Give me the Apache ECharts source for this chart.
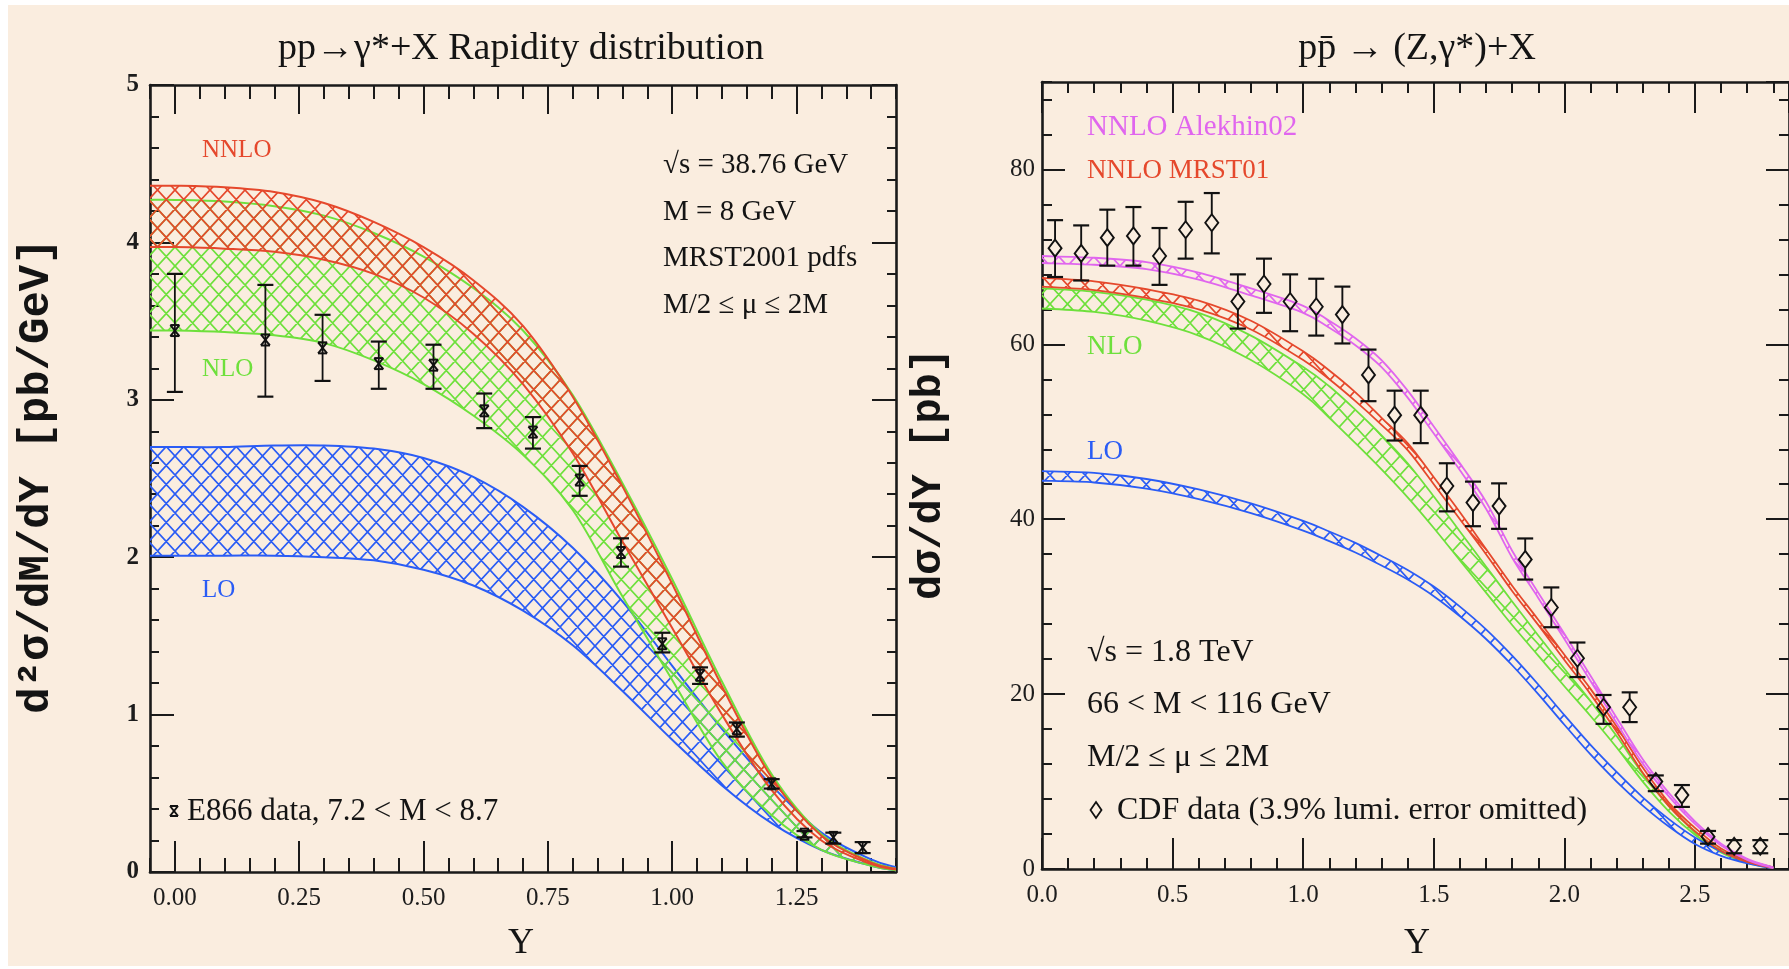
<!DOCTYPE html>
<html><head><meta charset="utf-8">
<script src="https://cdn.jsdelivr.net/npm/echarts@6/dist/echarts.min.js"></script>
<style>
html,body{margin:0;padding:0;background:#fff;width:1789px;height:969px;overflow:hidden}
#bg{position:absolute;left:8px;top:5px;right:0;bottom:3px;background:#FAEDDF}
#chart{position:absolute;left:0;top:0;width:1789px;height:969px}
</style></head><body><div id="bg"></div><div id="chart"></div>
<script>
// ---------------- LEFT PANEL DATA (pp -> gamma* + X, E866) ----------------
const L_X      = [-0.05, 0, 0.1, 0.2, 0.3, 0.4, 0.5, 0.6, 0.7, 0.8, 0.9, 1.0, 1.1, 1.2, 1.3, 1.4, 1.45];
const NNLO_HI  = [4.36, 4.36, 4.35, 4.32, 4.25, 4.13, 3.97, 3.76, 3.47, 3.02, 2.45, 1.83, 1.18, 0.60, 0.23, 0.06, 0.02];
const NNLO_LO  = [3.97, 3.97, 3.96, 3.94, 3.89, 3.80, 3.65, 3.42, 3.10, 2.66, 2.10, 1.55, 1.00, 0.52, 0.20, 0.05, 0.015];
const NLO_HI   = [4.27, 4.27, 4.26, 4.23, 4.17, 4.06, 3.91, 3.71, 3.44, 3.03, 2.47, 1.86, 1.21, 0.62, 0.24, 0.065, 0.02];
const NLO_LO   = [3.44, 3.44, 3.43, 3.41, 3.36, 3.25, 3.10, 2.90, 2.65, 2.30, 1.75, 1.22, 0.70, 0.36, 0.14, 0.04, 0.01];
const LO_HI    = [2.70, 2.70, 2.70, 2.71, 2.71, 2.69, 2.63, 2.51, 2.32, 2.06, 1.72, 1.31, 0.91, 0.55, 0.25, 0.08, 0.03];
const LO_LO    = [2.01, 2.01, 2.01, 2.01, 2.00, 1.98, 1.92, 1.82, 1.66, 1.44, 1.15, 0.84, 0.55, 0.31, 0.14, 0.04, 0.01];

const E866_Y   = [0.00, 0.182, 0.297, 0.41, 0.52, 0.622, 0.72, 0.814, 0.897, 0.98, 1.056, 1.13, 1.20, 1.266, 1.324, 1.383];
const E866_VAL = [3.44, 3.38, 3.33, 3.23, 3.22, 2.93, 2.795, 2.49, 2.03, 1.45, 1.25, 0.91, 0.56, 0.24, 0.22, 0.155];
const E866_LO  = [3.05, 3.02, 3.12, 3.07, 3.07, 2.82, 2.69, 2.39, 1.94, 1.395, 1.195, 0.86, 0.53, 0.22, 0.18, 0.12];
const E866_HI  = [3.80, 3.73, 3.54, 3.37, 3.35, 3.04, 2.89, 2.58, 2.12, 1.52, 1.30, 0.95, 0.59, 0.26, 0.25, 0.19];

const L_XTICKS = [0, 0.25, 0.5, 0.75, 1.0, 1.25];

// ---------------- RIGHT PANEL DATA (ppbar -> Z/gamma* + X, CDF) ----------------
const R_X      = [0, 0.2, 0.4, 0.6, 0.8, 1.0, 1.1, 1.2, 1.3, 1.4, 1.5, 1.6, 1.7, 1.8, 1.9, 2.0, 2.1, 2.2, 2.3, 2.4, 2.5, 2.6, 2.7, 2.8];
const ALEK_HI  = [70.1, 69.9, 69.4, 68.2, 66.4, 64.4, 62.7, 60.7, 58.2, 54.7, 50.6, 46.4, 42.0, 36.4, 31.6, 26.9, 22.1, 17.3, 12.55, 8.7, 5.45, 2.9, 1.15, 0.2];
const ALEK_LO  = [69.3, 69.1, 68.6, 67.4, 65.6, 63.6, 61.9, 59.9, 57.4, 53.9, 49.8, 45.6, 41.2, 35.6, 31.0, 26.3, 21.5, 16.7, 12.05, 8.3, 5.15, 2.7, 1.05, 0.1];
const MRST_HI  = [67.6, 67.2, 66.3, 65.0, 62.7, 59.2, 57.0, 54.5, 51.6, 48.7, 44.8, 40.8, 36.6, 32.4, 28.5, 24.5, 20.6, 16.3, 11.6, 7.6, 4.7, 2.35, 1.0, 0.2];
const MRST_LO  = [66.6, 66.2, 65.3, 64.0, 61.7, 58.2, 56.0, 53.5, 50.8, 47.9, 44.0, 40.0, 36.0, 31.8, 27.9, 23.9, 20.0, 15.7, 11.0, 7.2, 4.3, 2.05, 0.8, 0.1];
const NLOR_HI  = [66.4, 66.0, 65.1, 63.6, 61.0, 57.4, 55.2, 52.5, 49.6, 46.4, 42.6, 38.6, 34.6, 30.6, 26.7, 22.9, 19.2, 15.2, 10.9, 7.2, 4.3, 2.1, 0.8, 0.1];
const NLOR_LO  = [64.1, 63.7, 62.7, 61.0, 58.2, 54.3, 51.6, 48.7, 45.7, 42.5, 39.0, 35.3, 31.6, 27.9, 24.4, 20.9, 17.5, 13.9, 10.0, 6.6, 3.9, 1.9, 0.7, 0.08];
const LOR_HI   = [45.5, 45.3, 44.6, 43.4, 41.8, 39.8, 38.6, 37.3, 35.8, 34.2, 32.3, 30.0, 27.4, 24.4, 21.1, 17.6, 14.2, 11.1, 8.2, 5.7, 3.6, 2.0, 0.95, 0.15];
const LOR_LO   = [44.4, 44.2, 43.5, 42.3, 40.7, 38.7, 37.5, 36.2, 34.7, 33.1, 31.2, 28.9, 26.3, 23.3, 20.0, 16.5, 13.1, 10.0, 7.25, 4.85, 2.85, 1.5, 0.65, 0.05];

const CDF_Y    = [0.05, 0.15, 0.25, 0.35, 0.45, 0.55, 0.65, 0.75, 0.85, 0.95, 1.05, 1.15, 1.25, 1.35, 1.45, 1.55, 1.65, 1.75, 1.85, 1.95, 2.05, 2.15, 2.25, 2.35, 2.45, 2.55, 2.65, 2.75];
const CDF_VAL  = [71.0, 70.4, 72.2, 72.4, 70.1, 73.1, 73.9, 64.9, 66.9, 64.9, 64.3, 63.4, 56.5, 51.9, 51.9, 43.8, 41.9, 41.5, 35.4, 29.9, 24.1, 18.5, 18.5, 10.0, 8.45, 3.7, 2.6, 2.6];
const CDF_LO   = [67.7, 67.3, 69.0, 69.0, 66.8, 69.8, 70.4, 61.8, 63.6, 61.5, 61.0, 60.1, 53.5, 49.0, 48.7, 40.9, 39.2, 38.9, 33.1, 27.65, 21.95, 16.6, 16.8, 8.9, 7.1, 2.9, 1.8, 1.8];
const CDF_HI   = [74.2, 73.6, 75.4, 75.7, 73.3, 76.3, 77.3, 68.0, 69.8, 68.0, 67.5, 66.6, 59.4, 54.7, 54.7, 46.4, 44.3, 44.1, 37.8, 32.2, 25.9, 19.9, 20.2, 10.7, 9.6, 4.35, 3.3, 3.3];

// ---------------- STYLE ----------------
const C_RED = '#E5482C', C_GREEN = '#6EE03C', C_BLUE = '#2A5CF5', C_MAG = '#E066EE';
const AX = '#1a1a1a';
const SERIF = '"Liberation Serif", "DejaVu Serif", serif';
const MONO = '"Liberation Mono", "DejaVu Sans Mono", monospace';

function hatch(color) {
  const w = 35, h = 38;
  const c = document.createElement('canvas'); c.width = w; c.height = h;
  const g = c.getContext('2d');
  g.strokeStyle = color; g.lineWidth = 1.7; g.beginPath();
  for (let k = -3; k <= 5; k++) {
    const x0 = k * 17.5;
    g.moveTo(x0 - 3.5, -3.8); g.lineTo(x0 + 38.5, 41.8);
    g.moveTo(x0 + 3.5, -3.8); g.lineTo(x0 - 38.5, 41.8);
  }
  g.stroke();
  return c;
}

function catmull(pts, start) {
  let d = (start ? 'M' : 'L') + pts[0][0] + ',' + pts[0][1];
  for (let i = 0; i < pts.length - 1; i++) {
    const p0 = pts[i - 1] || pts[i], p1 = pts[i], p2 = pts[i + 1], p3 = pts[i + 2] || pts[i + 1];
    const c1x = p1[0] + (p2[0] - p0[0]) / 6, c1y = p1[1] + (p2[1] - p0[1]) / 6;
    const c2x = p2[0] - (p3[0] - p1[0]) / 6, c2y = p2[1] - (p3[1] - p1[1]) / 6;
    d += 'C' + c1x + ',' + c1y + ',' + c2x + ',' + c2y + ',' + p2[0] + ',' + p2[1];
  }
  return d;
}

function bandSeries(name, xs, lo, hi, color, xi, yi, edgeW, z) {
  const pattern = { image: hatch(color), repeat: 'repeat' };
  return {
    type: 'custom', name, xAxisIndex: xi, yAxisIndex: yi, clip: true, z: z,
    data: xs.map((x, i) => [x, lo[i], hi[i]]),
    renderItem: function (params, api) {
      if (params.dataIndexInside !== 0) return;
      const n = params.dataInsideLength;
      const hp = [], lp = [];
      for (let i = 0; i < n; i++) {
        const x = api.value(0, i);
        hp.push(api.coord([x, api.value(2, i)]));
        lp.push(api.coord([x, api.value(1, i)]));
      }
      const fill = catmull(hp, true) + catmull(lp.slice().reverse(), false) + 'Z';
      return {
        type: 'group', children: [
          { type: 'path', shape: { pathData: fill }, style: { fill: pattern, stroke: null } },
          { type: 'path', shape: { pathData: catmull(hp, true) }, style: { fill: null, stroke: color, lineWidth: edgeW } },
          { type: 'path', shape: { pathData: catmull(lp, true) }, style: { fill: null, stroke: color, lineWidth: edgeW } }
        ]
      };
    }
  };
}

function ln(x1, y1, x2, y2, w) {
  return { type: 'line', shape: { x1, y1, x2, y2 }, style: { stroke: '#111', lineWidth: w } };
}

function errSeries(xs, v, lo, hi, xi, yi, marker) {
  return {
    type: 'custom', xAxisIndex: xi, yAxisIndex: yi, clip: true, z: 20,
    data: xs.map((x, i) => [x, v[i], lo[i], hi[i]]),
    renderItem: function (params, api) {
      const x = api.value(0);
      const p = api.coord([x, api.value(1)]);
      const a = api.coord([x, api.value(3)]);
      const b = api.coord([x, api.value(2)]);
      const ch = [];
      const cw = 8;
      ch.push(ln(a[0] - cw, a[1], a[0] + cw, a[1], 2.2));
      ch.push(ln(b[0] - cw, b[1], b[0] + cw, b[1], 2.2));
      if (marker === 'diamond') {
        const hw = 6.5, hh = 8.5;
        if (a[1] < p[1] - hh) ch.push(ln(a[0], a[1], a[0], p[1] - hh, 1.9));
        if (b[1] > p[1] + hh) ch.push(ln(b[0], p[1] + hh, b[0], b[1], 1.9));
        ch.push({ type: 'polygon', shape: { points: [[p[0], p[1] - hh], [p[0] + hw, p[1]], [p[0], p[1] + hh], [p[0] - hw, p[1]]] },
                  style: { fill: null, stroke: '#111', lineWidth: 1.9 } });
      } else {
        ch.push(ln(a[0], a[1], b[0], b[1], 1.8));
        const hw = 4.5, hh = 5.5;
        ch.push(ln(p[0] - hw, p[1] - hh, p[0] + hw, p[1] + hh, 2));
        ch.push(ln(p[0] + hw, p[1] - hh, p[0] - hw, p[1] + hh, 2));
        ch.push(ln(p[0] - hw, p[1] - hh, p[0] + hw, p[1] - hh, 2));
        ch.push(ln(p[0] - hw, p[1] + hh, p[0] + hw, p[1] + hh, 2));
      }
      return { type: 'group', children: ch };
    }
  };
}

const labelFont = { fontFamily: SERIF, fontSize: 25, color: '#1c1c1c' };

function ax(o) {
  const base = {
    type: 'value', gridIndex: o.grid, position: o.pos, min: o.min, max: o.max,
    splitLine: { show: false },
    axisLine: { show: !!o.line, onZero: false, lineStyle: { color: AX, width: 2.6 } },
    axisTick: { show: true, inside: true, length: o.len, lineStyle: { color: AX, width: 2 } },
    axisLabel: { show: false }
  };
  if (o.interval !== undefined) base.interval = o.interval;
  if (o.custom) base.axisTick.customValues = o.custom;
  if (o.label) {
    base.axisLabel = Object.assign({ show: true, margin: o.margin, formatter: o.fmt, showMaxLabel: o.showMax, showMinLabel: true }, labelFont, o.labelExtra || {});
    if (o.custom) base.axisLabel.customValues = o.custom;
  }
  return base;
}

const xAxes = [
  // left panel
  ax({ grid: 0, pos: 'bottom', min: -0.05, max: 1.45, custom: L_XTICKS, len: 31, line: true, label: true, showMax: true, margin: 14, fmt: v => Number(v).toFixed(2) }),
  ax({ grid: 0, pos: 'bottom', min: -0.05, max: 1.45, interval: 0.05, len: 14 }),
  ax({ grid: 0, pos: 'top', min: -0.05, max: 1.45, custom: L_XTICKS, len: 29, line: true }),
  ax({ grid: 0, pos: 'top', min: -0.05, max: 1.45, interval: 0.05, len: 14 }),
  // right panel
  ax({ grid: 1, pos: 'bottom', min: 0, max: 2.86, interval: 0.5, len: 31, line: true, label: true, showMax: false, margin: 14, fmt: v => Number(v).toFixed(1) }),
  ax({ grid: 1, pos: 'bottom', min: 0, max: 2.86, interval: 0.1, len: 11 }),
  ax({ grid: 1, pos: 'top', min: 0, max: 2.86, interval: 0.5, len: 31, line: true }),
  ax({ grid: 1, pos: 'top', min: 0, max: 2.86, interval: 0.1, len: 11 })
];
const yAxes = [
  ax({ grid: 0, pos: 'left', min: 0, max: 5, interval: 1, len: 24, line: true, label: true, showMax: true, margin: 11, fmt: v => String(v), labelExtra: { fontWeight: 'bold' } }),
  ax({ grid: 0, pos: 'left', min: 0, max: 5, interval: 0.2, len: 9 }),
  ax({ grid: 0, pos: 'right', min: 0, max: 5, interval: 1, len: 24, line: true }),
  ax({ grid: 0, pos: 'right', min: 0, max: 5, interval: 0.2, len: 9 }),
  ax({ grid: 1, pos: 'left', min: 0, max: 90, interval: 20, len: 23, line: true, label: true, showMax: false, margin: 7, fmt: v => String(v) }),
  ax({ grid: 1, pos: 'left', min: 0, max: 90, interval: 4, len: 10 }),
  ax({ grid: 1, pos: 'right', min: 0, max: 90, interval: 20, len: 23, line: true }),
  ax({ grid: 1, pos: 'right', min: 0, max: 90, interval: 4, len: 10 })
];

function txt(x, y, text, font, fill, align) {
  return { type: 'text', x, y, z: 50, style: { text, font, fill: fill || '#141414', align: align || 'left', verticalAlign: 'middle' } };
}
const F_ANN_L = '29px ' + SERIF;
const F_ANN_R = '32px ' + SERIF;
const graphics = [
  txt(521, 49, 'pp\u2192\u03b3*+X Rapidity distribution', '38px ' + SERIF, '#141414', 'center'),
  txt(1417, 49, 'pp\u0304 \u2192 (Z,\u03b3*)+X', '38px ' + SERIF, '#141414', 'center'),
  { type: 'text', x: 37, y: 476, rotation: Math.PI / 2, z: 50, style: { text: 'd\u00b2\u03c3/dM/dY [pb/GeV]', font: 'bold 44px ' + MONO, fill: '#141414', align: 'center', verticalAlign: 'middle' } },
  { type: 'text', x: 929, y: 474, rotation: Math.PI / 2, z: 50, style: { text: 'd\u03c3/dY [pb]', font: 'bold 42px ' + MONO, fill: '#141414', align: 'center', verticalAlign: 'middle' } },
  txt(521, 944, 'Y', '36px ' + SERIF, '#141414', 'center'),
  txt(1417, 944, 'Y', '36px ' + SERIF, '#141414', 'center'),
  // left panel labels
  txt(202, 150, 'NNLO', '25px ' + SERIF, C_RED),
  txt(202, 369, 'NLO', '25px ' + SERIF, C_GREEN),
  txt(202, 590, 'LO', '25px ' + SERIF, C_BLUE),
  txt(663, 165, '\u221as = 38.76 GeV', F_ANN_L),
  txt(663, 212, 'M = 8 GeV', F_ANN_L),
  txt(663, 258, 'MRST2001 pdfs', F_ANN_L),
  txt(663, 305, 'M/2 \u2264 \u03bc \u2264 2M', F_ANN_L),
  txt(187, 812, 'E866 data, 7.2 < M < 8.7', '31px ' + SERIF),
  // right panel labels
  txt(1087, 127, 'NNLO Alekhin02', '29px ' + SERIF, C_MAG),
  txt(1087, 171, 'NNLO MRST01', '27px ' + SERIF, C_RED),
  txt(1087, 347, 'NLO', '27px ' + SERIF, C_GREEN),
  txt(1087, 452, 'LO', '27px ' + SERIF, C_BLUE),
  txt(1087, 653, '\u221as = 1.8 TeV', F_ANN_R),
  txt(1087, 705, '66 < M < 116 GeV', F_ANN_R),
  txt(1087, 758, 'M/2 \u2264 \u03bc \u2264 2M', F_ANN_R),
  txt(1117, 811, 'CDF data (3.9% lumi. error omitted)', F_ANN_R),
  // legend symbols
  { type: 'polygon', z: 50, shape: { points: [[1096, 802], [1101.5, 810], [1096, 818], [1090.5, 810]] }, style: { fill: null, stroke: '#111', lineWidth: 1.8 } },
  { type: 'group', z: 50, children: [
    { type: 'line', shape: { x1: 170, y1: 806, x2: 178, y2: 816 }, style: { stroke: '#111', lineWidth: 2 } },
    { type: 'line', shape: { x1: 178, y1: 806, x2: 170, y2: 816 }, style: { stroke: '#111', lineWidth: 2 } },
    { type: 'line', shape: { x1: 170, y1: 806, x2: 178, y2: 806 }, style: { stroke: '#111', lineWidth: 2 } },
    { type: 'line', shape: { x1: 170, y1: 816, x2: 178, y2: 816 }, style: { stroke: '#111', lineWidth: 2 } }
  ] }
];

const chart = echarts.init(document.getElementById('chart'), null, { renderer: 'canvas' });
chart.setOption({
  animation: false,
  backgroundColor: 'transparent',
  grid: [
    { left: 150, top: 85, width: 746, height: 787 },
    { left: 1042, top: 82, width: 752, height: 787 }
  ],
  xAxis: xAxes,
  yAxis: yAxes,
  series: [
    bandSeries('LO', L_X, LO_LO, LO_HI, C_BLUE, 0, 0, 2, 2),
    bandSeries('NLO', L_X, NLO_LO, NLO_HI, C_GREEN, 0, 0, 2, 3),
    bandSeries('NNLO', L_X, NNLO_LO, NNLO_HI, C_RED, 0, 0, 2, 4),
    errSeries(E866_Y, E866_VAL, E866_LO, E866_HI, 0, 0, 'x'),
    bandSeries('NLO R', R_X, NLOR_LO, NLOR_HI, C_GREEN, 4, 4, 1.8, 2),
    bandSeries('LO R', R_X, LOR_LO, LOR_HI, C_BLUE, 4, 4, 1.8, 3),
    bandSeries('NNLO MRST01', R_X, MRST_LO, MRST_HI, C_RED, 4, 4, 1.8, 4),
    bandSeries('NNLO Alekhin02', R_X, ALEK_LO, ALEK_HI, C_MAG, 4, 4, 1.8, 5),
    errSeries(CDF_Y, CDF_VAL, CDF_LO, CDF_HI, 4, 4, 'diamond')
  ],
  graphic: graphics
});
</script></body></html>
